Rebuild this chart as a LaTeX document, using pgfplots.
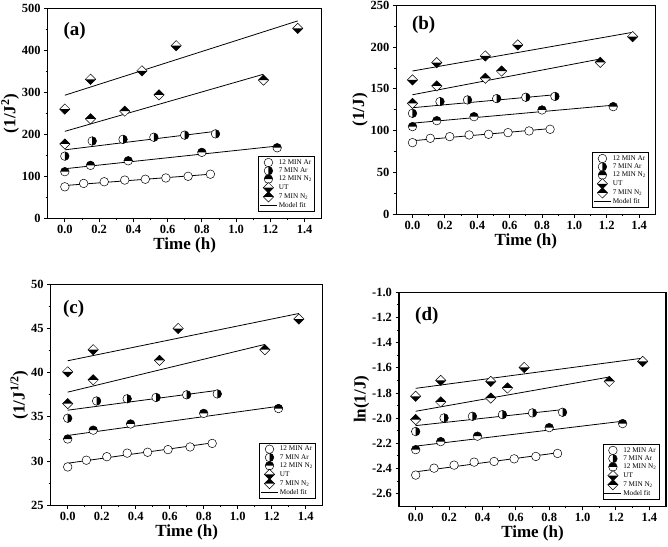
\documentclass[border=0pt]{standalone}
\usepackage{pgfplots}
\pgfplotsset{compat=1.18}
\usepackage{fontspec}
\setmainfont{Liberation Serif}

\pgfdeclareplotmark{ocirc}{%
  \pgfsetfillcolor{white}%
  \pgfpathcircle{\pgfpointorigin}{\pgfplotmarksize}%
  \pgfusepathqfillstroke}
\pgfdeclareplotmark{hcright}{%
  \pgfsetfillcolor{white}%
  \pgfpathcircle{\pgfpointorigin}{\pgfplotmarksize}%
  \pgfusepathqfill
  \pgfsetfillcolor{black}%
  \pgfpathmoveto{\pgfqpoint{0pt}{\pgfplotmarksize}}%
  \pgfpatharc{90}{-90}{\pgfplotmarksize}%
  \pgfpathclose
  \pgfusepathqfill
  \pgfpathcircle{\pgfpointorigin}{\pgfplotmarksize}%
  \pgfusepathqstroke}
\pgfdeclareplotmark{hctop}{%
  \pgfsetfillcolor{white}%
  \pgfpathcircle{\pgfpointorigin}{\pgfplotmarksize}%
  \pgfusepathqfill
  \pgfsetfillcolor{black}%
  \pgfpathmoveto{\pgfqpoint{\pgfplotmarksize}{0pt}}%
  \pgfpatharc{0}{180}{\pgfplotmarksize}%
  \pgfpathclose
  \pgfusepathqfill
  \pgfpathcircle{\pgfpointorigin}{\pgfplotmarksize}%
  \pgfusepathqstroke}
\pgfdeclareplotmark{dbot}{%
  \pgfsetfillcolor{white}%
  \pgfpathmoveto{\pgfqpoint{-1.2\pgfplotmarksize}{0pt}}%
  \pgfpathlineto{\pgfqpoint{0pt}{1.2\pgfplotmarksize}}%
  \pgfpathlineto{\pgfqpoint{1.2\pgfplotmarksize}{0pt}}%
  \pgfpathlineto{\pgfqpoint{0pt}{-1.2\pgfplotmarksize}}%
  \pgfpathclose
  \pgfusepathqfill
  \pgfsetfillcolor{black}%
  \pgfpathmoveto{\pgfqpoint{-1.2\pgfplotmarksize}{0pt}}%
  \pgfpathlineto{\pgfqpoint{0pt}{-1.2\pgfplotmarksize}}%
  \pgfpathlineto{\pgfqpoint{1.2\pgfplotmarksize}{0pt}}%
  \pgfpathclose
  \pgfusepathqfill
  \pgfpathmoveto{\pgfqpoint{-1.2\pgfplotmarksize}{0pt}}%
  \pgfpathlineto{\pgfqpoint{0pt}{1.2\pgfplotmarksize}}%
  \pgfpathlineto{\pgfqpoint{1.2\pgfplotmarksize}{0pt}}%
  \pgfpathlineto{\pgfqpoint{0pt}{-1.2\pgfplotmarksize}}%
  \pgfpathclose
  \pgfusepathqstroke}
\pgfdeclareplotmark{dtop}{%
  \pgfsetfillcolor{white}%
  \pgfpathmoveto{\pgfqpoint{-1.2\pgfplotmarksize}{0pt}}%
  \pgfpathlineto{\pgfqpoint{0pt}{1.2\pgfplotmarksize}}%
  \pgfpathlineto{\pgfqpoint{1.2\pgfplotmarksize}{0pt}}%
  \pgfpathlineto{\pgfqpoint{0pt}{-1.2\pgfplotmarksize}}%
  \pgfpathclose
  \pgfusepathqfill
  \pgfsetfillcolor{black}%
  \pgfpathmoveto{\pgfqpoint{-1.2\pgfplotmarksize}{0pt}}%
  \pgfpathlineto{\pgfqpoint{0pt}{1.2\pgfplotmarksize}}%
  \pgfpathlineto{\pgfqpoint{1.2\pgfplotmarksize}{0pt}}%
  \pgfpathclose
  \pgfusepathqfill
  \pgfpathmoveto{\pgfqpoint{-1.2\pgfplotmarksize}{0pt}}%
  \pgfpathlineto{\pgfqpoint{0pt}{1.2\pgfplotmarksize}}%
  \pgfpathlineto{\pgfqpoint{1.2\pgfplotmarksize}{0pt}}%
  \pgfpathlineto{\pgfqpoint{0pt}{-1.2\pgfplotmarksize}}%
  \pgfpathclose
  \pgfusepathqstroke}

\tikzset{plab/.style={anchor=north west, inner sep=0pt, font=\bfseries\fontsize{19}{19}\selectfont}}
\pgfplotsset{
  panel/.style={
    scale only axis, anchor=south west,
    axis line style={line width=1.1pt},
    tick align=outside, xtick pos=left, ytick pos=left,
    major tick length=3.5pt, minor tick length=2pt,
    every tick/.style={line width=0.9pt, black},
    xmin=-0.1, xmax=1.5,
    xtick={0,0.2,0.4,0.6,0.8,1.0,1.2,1.4},
    minor x tick num=1, minor y tick num=1,
    xticklabel style={/pgf/number format/.cd, fixed, fixed zerofill, precision=1},
    /pgf/number format/assume math mode=true,
    ticklabel style={font=\bfseries\fontsize{12.5}{12.5}\selectfont},
    xlabel={Time (h)},
    label style={font=\bfseries\fontsize{17}{17}\selectfont},
    xlabel style={yshift=3pt},
    ylabel style={yshift=-4pt},
    legend style={draw=black, line width=0.8pt, font=\fontsize{7.2}{7.5}\selectfont,
      anchor=south east, at={(0.975,0.03)}, inner sep=1pt, row sep=-1.2pt,
      legend cell align=left, nodes={inner sep=1.6pt}},
    legend image post style={line width=0.5pt},
  },
  s1/.style={only marks, mark=ocirc, mark size=4.3pt, mark options={line width=0.5pt, draw=black}},
  s2/.style={only marks, mark=hcright, mark size=4.3pt, mark options={line width=0.5pt, draw=black}},
  s3/.style={only marks, mark=hctop, mark size=4.3pt, mark options={line width=0.5pt, draw=black}},
  s4/.style={only marks, mark=dbot, mark size=4.3pt, mark options={line width=0.5pt, draw=black}},
  s5/.style={only marks, mark=dtop, mark size=4.3pt, mark options={line width=0.5pt, draw=black}},
  fit/.style={black, line width=0.8pt, no marks, forget plot},
}

\begin{document}
\begin{tikzpicture}
\useasboundingbox (0pt,0pt) rectangle (668pt,546pt);

% ---------- (a)
\begin{axis}[panel, at={(47.7pt,327.7pt)}, width=274pt, height=210pt,
  ymin=0, ymax=500, ytick={0,100,200,300,400,500},
  ylabel={(1/J\textsuperscript{2})}]
\addplot[fit] coordinates {(0,78) (0.85,105)};
\addplot[fit] coordinates {(0,163) (0.88,207)};
\addplot[fit] coordinates {(0,118) (1.24,172)};
\addplot[fit] coordinates {(0,293) (1.36,470)};
\addplot[fit] coordinates {(0,207) (1.16,343)};
\addplot[s1] coordinates {(0,75) (0.11,83) (0.23,87) (0.35,91) (0.47,93) (0.59,96) (0.72,100) (0.85,105)};
\addplot[s2] coordinates {(0,148) (0.16,184) (0.34,188) (0.52,193) (0.70,198) (0.88,201)};
\addplot[s3] coordinates {(0,111) (0.15,126) (0.37,137) (0.80,157) (1.24,168)};
\addplot[s4] coordinates {(0,260) (0.15,331) (0.45,351) (0.65,411) (1.36,452)};
\addplot[s5] coordinates {(0,177) (0.15,237) (0.35,255) (0.55,294) (1.16,329)};
\addlegendimage{black, line width=0.8pt}
\legend{12 MIN Ar, 7 MIN Ar, 12 MIN N\textsubscript{2}, UT, 7 MIN N\textsubscript{2}, Model fit}
\node[plab] at (rel axis cs:0.057,0.936) {(a)};
\end{axis}

% ---------- (b)
\begin{axis}[panel, at={(396.3pt,331.7pt)}, width=259pt, height=209pt,
  ymin=0, ymax=250, ytick={0,50,100,150,200,250},
  ylabel={(1/J)}]
\addplot[fit] coordinates {(0,88) (0.85,102.5)};
\addplot[fit] coordinates {(0,127.5) (0.88,143)};
\addplot[fit] coordinates {(0,109) (1.24,130.5)};
\addplot[fit] coordinates {(0,171.4) (1.36,217.7)};
\addplot[fit] coordinates {(0,143) (1.16,185.8)};
\addplot[s1] coordinates {(0,85.7) (0.11,90.9) (0.23,92.9) (0.35,94.9) (0.47,95.7) (0.59,97.7) (0.72,99.7) (0.85,101.7)};
\addplot[s2] coordinates {(0,120.8) (0.17,134.8) (0.34,136.8) (0.52,138.4) (0.70,140) (0.88,141)};
\addplot[s3] coordinates {(0,104.9) (0.15,112) (0.38,116.8) (0.80,124.8) (1.24,128.8)};
\addplot[s4] coordinates {(0,160.7) (0.15,181.4) (0.45,189.4) (0.65,202.6) (1.36,212.5)};
\addplot[s5] coordinates {(0,132.8) (0.15,153.5) (0.45,162.7) (0.55,171.4) (1.16,181.8)};
\addlegendimage{black, line width=0.8pt}
\legend{12 MIN Ar, 7 MIN Ar, 12 MIN N\textsubscript{2}, UT, 7 MIN N\textsubscript{2}, Model fit}
\node[plab] at (rel axis cs:0.06,0.95) {(b)};
\end{axis}

% ---------- (c)
\begin{axis}[panel, at={(50.7pt,40.7pt)}, width=272pt, height=221pt,
  ymin=25, ymax=50, ytick={25,30,35,40,45,50},
  ylabel={(1/J\textsuperscript{1/2})}]
\addplot[fit] coordinates {(0,29.76) (0.85,32.06)};
\addplot[fit] coordinates {(0,35.76) (0.88,38.0)};
\addplot[fit] coordinates {(0,32.9) (1.24,36.2)};
\addplot[fit] coordinates {(0,41.35) (1.36,46.7)};
\addplot[fit] coordinates {(0,37.8) (1.16,43.2)};
\addplot[s1] coordinates {(0,29.34) (0.11,30.1) (0.23,30.5) (0.35,30.9) (0.47,31.0) (0.59,31.3) (0.72,31.6) (0.85,32.0)};
\addplot[s2] coordinates {(0,34.85) (0.17,36.8) (0.35,37.05) (0.52,37.2) (0.70,37.5) (0.88,37.6)};
\addplot[s3] coordinates {(0,32.5) (0.15,33.5) (0.37,34.2) (0.80,35.4) (1.24,35.95)};
\addplot[s4] coordinates {(0,40.1) (0.15,42.6) (0.65,45.0) (1.36,46.07)};
\addplot[s5] coordinates {(0,36.5) (0.15,39.2) (0.54,41.4) (1.16,42.6)};
\addlegendimage{black, line width=0.8pt}
\legend{12 MIN Ar, 7 MIN Ar, 12 MIN N\textsubscript{2}, UT, 7 MIN N\textsubscript{2}, Model fit}
\node[plab] at (rel axis cs:0.045,0.93) {(c)};
\end{axis}

% ---------- (d)
\begin{axis}[panel, at={(399pt,39.7pt)}, width=267pt, height=214pt,
  ymin=-2.7, ymax=-1.0, ytick={-2.6,-2.4,-2.2,-2.0,-1.8,-1.6,-1.4,-1.2,-1.0},
  yticklabel style={/pgf/number format/.cd, fixed, fixed zerofill, precision=1},
  ylabel={ln(1/J)}]
\addplot[fit] coordinates {(0,-2.426) (0.85,-2.275)};
\addplot[fit] coordinates {(0,-2.059) (0.88,-1.932)};
\addplot[fit] coordinates {(0,-2.222) (1.24,-2.024)};
\addplot[fit] coordinates {(0,-1.763) (1.36,-1.523)};
\addplot[fit] coordinates {(0,-1.945) (1.16,-1.673)};
\addplot[s1] coordinates {(0,-2.452) (0.11,-2.397) (0.23,-2.373) (0.35,-2.349) (0.47,-2.344) (0.59,-2.323) (0.72,-2.304) (0.85,-2.28)};
\addplot[s2] coordinates {(0,-2.106) (0.17,-1.998) (0.34,-1.985) (0.52,-1.972) (0.70,-1.958) (0.88,-1.953)};
\addplot[s3] coordinates {(0,-2.25) (0.15,-2.186) (0.37,-2.143) (0.80,-2.075) (1.24,-2.043)};
\addplot[s4] coordinates {(0,-1.826) (0.15,-1.70) (0.45,-1.708) (0.65,-1.597) (1.36,-1.549)};
\addplot[s5] coordinates {(0,-2.011) (0.15,-1.871) (0.45,-1.84) (0.55,-1.76) (1.16,-1.708)};
\addlegendimage{black, line width=0.8pt}
\legend{12 MIN Ar, 7 MIN Ar, 12 MIN N\textsubscript{2}, UT, 7 MIN N\textsubscript{2}, Model fit}
\node[plab] at (rel axis cs:0.06,0.93) {(d)};
\end{axis}
\end{tikzpicture}
\end{document}
